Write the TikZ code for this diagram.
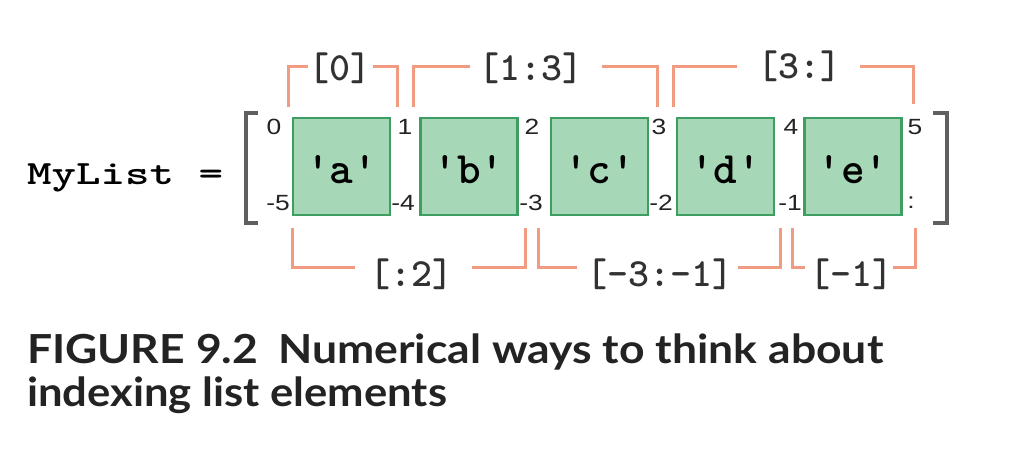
\documentclass[tikz,border=0pt]{standalone}
\usepackage{fontspec}
\usepackage{graphicx}
\newfontfamily\codefont{lmmonolt10-bold.otf}[Ligatures=TeXOff]
\newfontfamily\numfont{Liberation Sans}
\newfontfamily\capfont{Lato}
\definecolor{cellfill}{RGB}{166,215,183}
\definecolor{cellline}{RGB}{62,158,98}
\definecolor{orangeline}{RGB}{240,155,130}
\definecolor{brgray}{RGB}{95,95,95}
\definecolor{idxgray}{RGB}{35,35,35}
\definecolor{slicegray}{RGB}{50,50,50}
\definecolor{captext}{RGB}{35,35,35}
\newcommand{\idxs}[1]{\scalebox{1.2}[1]{#1}}
\tikzset{
  cell/.style={draw=cellline, fill=cellfill, line width=2.5pt, minimum width=97pt, minimum height=97pt, inner sep=0pt},
  celltext/.style={font=\codefont\fontsize{45}{45}\selectfont, anchor=base, inner sep=0pt},
  idx/.style={font=\numfont\fontsize{22}{22}\selectfont, text=idxgray, inner sep=0pt},
  slice/.style={font=\codefont\fontsize{40}{40}\selectfont, text=slicegray, inner sep=0pt},
  sline/.style={draw=orangeline, line width=3pt},
  listbr/.style={draw=brgray, line width=4pt},
  captxt/.style={font=\capfont\bfseries\fontsize{40}{40}\selectfont, text=captext, inner sep=0pt, anchor=base west}
}
\begin{document}
\begin{tikzpicture}[x=1pt,y=-1pt]
\useasboundingbox (0,0) rectangle (1010,464);
% list name
\node[font=\codefont\fontsize{34}{34}\selectfont, anchor=base west, inner sep=0pt] (name) at (27,184) {\resizebox{196pt}{\height}{MyList =}};
% list brackets
\coordinate (lb1) at (258,113); \coordinate (lb2) at (246,113);
\coordinate (lb3) at (246,223); \coordinate (lb4) at (258,223);
\draw[listbr] (lb1) -- (lb2) -- (lb3) -- (lb4);
\coordinate (rb1) at (933,113); \coordinate (rb2) at (947,113);
\coordinate (rb3) at (947,223); \coordinate (rb4) at (933,223);
\draw[listbr] (rb1) -- (rb2) -- (rb3) -- (rb4);
% cells
\node[cell] (ca) at (341.5,166.5) {};
\node[cell] (cb) at (469,166.5) {};
\node[cell] (cc) at (599.5,166.5) {};
\node[cell] (cd) at (725.5,166.5) {};
\node[cell] (ce) at (853,166.5) {};
\node[celltext] (ta) at (341.5,183) {'a'};
\node[celltext] (tb) at (469,183) {'b'};
\node[celltext] (tc) at (599.5,183) {'c'};
\node[celltext] (td) at (725.5,183) {'d'};
\node[celltext] (te) at (853,183) {'e'};
% indexes
\node[idx] (p0) at (274,127) {\idxs{0}};
\node[idx] (p1) at (405,127) {\idxs{1}};
\node[idx] (p2) at (532,127) {\idxs{2}};
\node[idx] (p3) at (659,127) {\idxs{3}};
\node[idx] (p4) at (791,127) {\idxs{4}};
\node[idx] (p5) at (915,127) {\idxs{5}};
\node[idx] (n5) at (278,203) {\idxs{-5}};
\node[idx] (n4) at (403,203) {\idxs{-4}};
\node[idx] (n3) at (531,203) {\idxs{-3}};
\node[idx] (n2) at (661,203) {\idxs{-2}};
\node[idx] (n1) at (790,203) {\idxs{-1}};
\node[idx] (nc) at (911,203) {\idxs{:}};
% slice labels
\node[slice] (s0) at (340,68) {[0]};
\node[slice] (s13) at (531,68) {[1:3]};
\node[slice] (s3) at (799,66) {[3:]};
\node[slice] (s2) at (411,274) {[:2]};
\node[slice] (s31) at (660,274) {[-3:-1]};
\node[slice] (s1) at (851,274) {[-1]};
% top bracket coordinates
\coordinate (a0) at (288,107); \coordinate (a1) at (308,66);
\coordinate (a2) at (373,66);  \coordinate (a3) at (397,107);
\coordinate (b0) at (413,107); \coordinate (b1) at (470,66);
\coordinate (b2) at (602,66);  \coordinate (b3) at (657,107);
\coordinate (c0) at (673,107); \coordinate (c1) at (737,66);
\coordinate (c2) at (860,66);  \coordinate (c3) at (913,104);
\draw[sline] (a0) |- (a1); \draw[sline] (a2) -| (a3);
\draw[sline] (b0) |- (b1); \draw[sline] (b2) -| (b3);
\draw[sline] (c0) |- (c1); \draw[sline] (c2) -| (c3);
% bottom bracket coordinates
\coordinate (d0) at (292,228); \coordinate (d1) at (355,267);
\coordinate (d2) at (472,267); \coordinate (d3) at (525,228);
\coordinate (e0) at (538,228); \coordinate (e1) at (577,267);
\coordinate (e2) at (738,267); \coordinate (e3) at (780,228);
\coordinate (f0) at (792,228); \coordinate (f1) at (805,267);
\coordinate (f2) at (893,267); \coordinate (f3) at (915,228);
\draw[sline] (d0) |- (d1); \draw[sline] (d2) -| (d3);
\draw[sline] (e0) |- (e1); \draw[sline] (e2) -| (e3);
\draw[sline] (f0) |- (f1); \draw[sline] (f2) -| (f3);
% caption
\node[captxt] (cap1) at (27,363) {\resizebox{856pt}{\height}{FIGURE 9.2\hspace{0.45em}Numerical ways to think about}};
\node[captxt] (cap2) at (27,406) {\resizebox{420pt}{\height}{indexing list elements}};
\end{tikzpicture}
\end{document}
